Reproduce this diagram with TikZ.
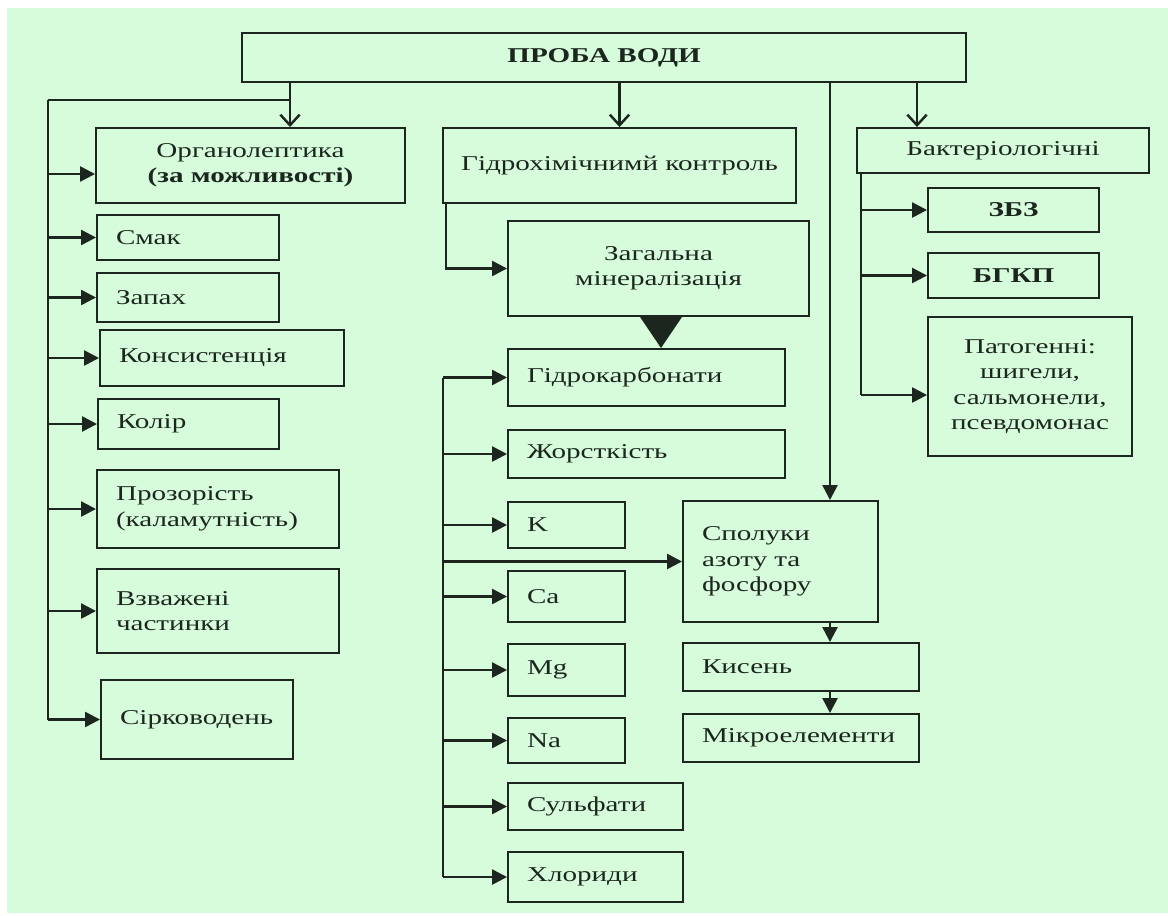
\documentclass[tikz,border=0pt]{standalone}
\usepackage{fontspec}
\setmainfont{Liberation Serif}[FakeStretch=1.38]
\usetikzlibrary{arrows.meta}
\definecolor{mint}{RGB}{214,252,220}
\definecolor{ink}{RGB}{28,38,30}

\begin{document}
\begin{tikzpicture}[
    wh/.style 2 args={minimum width=#1cm, minimum height=#2cm},
    lft/.style={align=left, text width=#1cm-0.76cm, inner xsep=0.38cm},
    ln/.style={draw=ink, line width=1.4pt},
    arr/.style={ln, -{Triangle[length=8.5pt,width=8.5pt]}},
    oarr/.style={ln, -{Straight Barb[length=6pt,width=11pt]}},
    big/.style={ln, -{Triangle[length=0.66cm,width=0.88cm]}}]

      \useasboundingbox (0,0) rectangle (23.36,-18.30);
      \fill[mint] (0.14,-0.16) rectangle (23.36,-18.26);

      \begin{scope}[every node/.style={draw=ink,text=ink,line width=1.1pt,inner sep=0pt,
          align=center,font=\fontsize{12pt}{14.5pt}\selectfont}]
        \node[wh={14.48}{0.98}] (1) at (12.08,-1.15) {\textbf{ПРОБА ВОДИ}};
        % left column
        \node[wh={6.18}{1.50}] (2) at (5.01,-3.31) {Органолептика\\\textbf{(за можливості)}};
        \node[wh={3.64}{0.90},lft=3.64] (3) at (3.76,-4.75) {Смак};
        \node[wh={3.64}{0.98},lft=3.64] (4) at (3.76,-5.95) {Запах};
        \node[wh={4.88}{1.12},lft=4.88] (5) at (4.44,-7.16) {Консистенція};
        \node[wh={3.62}{1.00},lft=3.62] (6) at (3.77,-8.48) {Колір};
        \node[wh={4.84}{1.56},lft=4.84] (7) at (4.36,-10.18) {Прозорість\\(каламутність)};
        \node[wh={4.84}{1.68},lft=4.84] (8) at (4.36,-12.22) {Взважені\\частинки};
        \node[wh={3.84}{1.58},lft=3.84] (9) at (3.94,-14.39) {Сірководень};
        % middle column
        \node[wh={7.06}{1.50}] (10) at (12.39,-3.31) {Гідрохімічнимй контроль};
        \node[wh={6.02}{1.90}] (11) at (13.17,-5.37) {Загальна\\мінералізація};
        \node[wh={5.54}{1.14},lft=5.54] (12) at (12.93,-7.55) {Гідрокарбонати};
        \node[wh={5.54}{0.96},lft=5.54] (13) at (12.93,-9.08) {Жорсткість};
        \node[wh={2.34}{0.92},lft=2.34] (14) at (11.33,-10.50) {K};
        \node[wh={2.34}{1.02},lft=2.34] (15) at (11.33,-11.93) {Ca};
        \node[wh={2.34}{1.04},lft=2.34] (16) at (11.33,-13.40) {Mg};
        \node[wh={2.34}{0.90},lft=2.34] (17) at (11.33,-14.81) {Na};
        \node[wh={3.50}{0.94},lft=3.50] (18) at (11.91,-16.13) {Сульфати};
        \node[wh={3.50}{1.00},lft=3.50] (19) at (11.91,-17.54) {Хлориди};
        \node[wh={3.90}{2.42},lft=3.90] (20) at (15.61,-11.23) {Сполуки\\азоту та\\фосфору};
        \node[wh={4.72}{0.96},lft=4.72] (21) at (16.02,-13.34) {Кисень};
        \node[wh={4.72}{0.96},lft=4.72] (22) at (16.02,-14.76) {Мікроелементи};
        % right column
        \node[wh={5.84}{0.90}] (23) at (20.06,-3.01) {Бактеріологічні};
        \node[wh={3.42}{0.88}] (24) at (20.27,-4.20) {\textbf{ЗБЗ}};
        \node[wh={3.42}{0.90}] (25) at (20.27,-5.51) {\textbf{БГКП}};
        \node[wh={4.08}{2.78}] (26) at (20.60,-7.73) {Патогенні:\\шигели,\\сальмонели,\\псевдомонас};
      \end{scope}

      \coordinate (b1) at (0.96,-2.00);
      \coordinate (d1) at (5.80,-2.00);
      \coordinate (d2) at (16.60,-2.00);
      \coordinate (d3) at (18.34,-2.00);
      \coordinate (m1) at (8.86,-7.55);
      \coordinate (r1) at (17.22,-3.46);
      \coordinate (c2) at ([yshift=-0.17cm]2.west);
      \coordinate (c26) at ([yshift=-0.17cm]26.west);
      \coordinate (t) at ([xshift=0.05cm]11.south);

      % left branch
      \draw[ln] (b1) -- (d1);
      \draw[ln] (b1) -- (b1 |- 9.west);
      \draw[oarr] (1.south -| d1) -- (2.north -| d1);
      \draw[arr] (b1 |- c2) -- (c2);
      \draw[arr] (b1 |- 3.west) -- (3.west);
      \draw[arr] (b1 |- 4.west) -- (4.west);
      \draw[arr] (b1 |- 5.west) -- (5.west);
      \draw[arr] (b1 |- 6.west) -- (6.west);
      \draw[arr] (b1 |- 7.west) -- (7.west);
      \draw[arr] (b1 |- 8.west) -- (8.west);
      \draw[arr] (b1 |- 9.west) -- (9.west);

      % middle branch
      \draw[oarr] (1.south -| 10.north) -- (10.north);
      \draw[arr] ([xshift=0.08cm]10.south west) |- (11.west);
      \draw[big] (t) -- (t |- 12.north);
      \draw[ln] (m1) -- (m1 |- 19.west);
      \draw[arr] (m1 |- 12.west) -- (12.west);
      \draw[arr] (m1 |- 13.west) -- (13.west);
      \draw[arr] (m1 |- 14.west) -- (14.west);
      \draw[arr] (m1 |- 20.west) -- (20.west);
      \draw[arr] (m1 |- 15.west) -- (15.west);
      \draw[arr] (m1 |- 16.west) -- (16.west);
      \draw[arr] (m1 |- 17.west) -- (17.west);
      \draw[arr] (m1 |- 18.west) -- (18.west);
      \draw[arr] (m1 |- 19.west) -- (19.west);
      \draw[arr] (1.south -| d2) -- (20.north -| d2);
      \draw[arr] (20.south -| d2) -- (21.north -| d2);
      \draw[arr] (21.south -| d2) -- (22.north -| d2);

      % right branch
      \draw[oarr] (1.south -| d3) -- (23.north -| d3);
      \draw[ln] (r1) -- (r1 |- c26);
      \draw[arr] (r1 |- 24.west) -- (24.west);
      \draw[arr] (r1 |- 25.west) -- (25.west);
      \draw[arr] (r1 |- c26) -- (c26);

    \end{tikzpicture}
\end{document}
